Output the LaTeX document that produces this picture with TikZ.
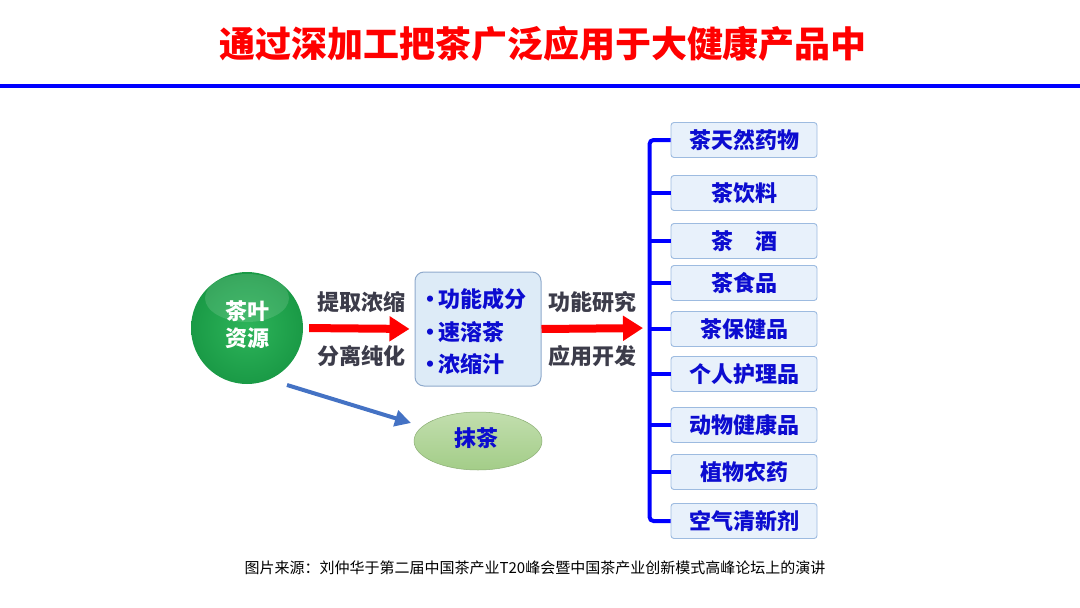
\documentclass[tikz,border=0pt]{standalone}
\usepackage{fontspec}
\setmainfont{Noto Sans CJK SC}
\newfontfamily\heavyfont{Noto Sans CJK SC}[UprightFont=* Black, BoldFont=* Black]
\usetikzlibrary{arrows.meta,shapes.geometric,shadings}
\definecolor{titlered}{HTML}{FF0000}
\definecolor{lineblue}{HTML}{0000FF}
\definecolor{txtblue}{HTML}{0C0CD0}
\definecolor{labgray}{HTML}{3C3C4A}
\definecolor{boxfill}{HTML}{DDEBF7}
\definecolor{boxedge}{HTML}{8FAACC}
\definecolor{itemfill}{HTML}{E8F1FB}
\definecolor{itemedge}{HTML}{9DBBE0}
\definecolor{arrowred}{HTML}{FF0000}
\definecolor{arrowblue}{HTML}{4472C4}
\definecolor{leafgreen}{HTML}{1A9A46}
\definecolor{leaflight}{HTML}{2DB45A}
\definecolor{matchatop}{HTML}{C2DEAE}
\definecolor{matchabot}{HTML}{A3CD88}
\tikzset{
  lab/.style={text=labgray, font=\fontsize{22}{26}\selectfont\bfseries},
  item/.style={draw=itemedge, fill=itemfill, line width=0.9, rounded corners=3,
    minimum width=146, minimum height=35, inner sep=0,
    text=txtblue, font=\fontsize{22}{26}\selectfont\bfseries},
  bullet/.style={anchor=west, text=txtblue, font=\fontsize{22}{26}\selectfont\bfseries, inner sep=0},
  redarrow/.style={arrowred, line width=8, -{Triangle[length=20,width=24]}},
  bracket/.style={lineblue, line width=4},
}
\begin{document}
\begin{tikzpicture}[x=1pt,y=-1pt]
\useasboundingbox (0,0) rectangle (1080,608);
\fill[white] (0,0) rectangle (1080,608);

% title
\node[text=titlered, font=\fontsize{36}{40}\selectfont\heavyfont] (title) at (543,44) {通过深加工把茶广泛应用于大健康产品中};
\coordinate (rl) at (0,86);
\coordinate (rr) at (1080,86);
\draw[lineblue, line width=4] (rl) -- (rr);

% source circle
\node[circle, minimum size=112, inner sep=0, inner color=leaflight, outer color=leafgreen] (src) at (247,328) {};
\fill[white, opacity=0.13] (247,298) ellipse (42 and 24);
\node[text=white, align=center, font=\fontsize{22}{27}\selectfont\bfseries] (srct) at (247,325) {茶叶\\资源};

% middle box
\node[draw=boxedge, fill=boxfill, line width=1, rounded corners=9, minimum width=126, minimum height=114, inner sep=0] (mid) at (478,329) {};
\node[bullet] (m1) at (419,299) {·\hspace{-3pt}功能成分};
\node[bullet] (m2) at (419,332) {·\hspace{-3pt}速溶茶};
\node[bullet] (m3) at (419,364) {·\hspace{-3pt}浓缩汁};

% arrows + labels
\draw[redarrow, shorten <=6, shorten >=5] (src.east) -- (mid.west);
\node[lab] (l1) at (361,302) {提取浓缩};
\node[lab] (l2) at (361,356) {分离纯化};

\coordinate (hub) at (650,328);
\draw[redarrow, shorten >=7] (mid.east) -- (hub);
\node[lab] (l3) at (592,302) {功能研究};
\node[lab] (l4) at (592,356) {应用开发};

% matcha
\node[ellipse, minimum width=128, minimum height=58, inner sep=0, top color=matchatop, bottom color=matchabot, draw=matchabot!85!black, line width=0.5] (matcha) at (478,441) {};
\node[text=txtblue, font=\fontsize{22}{26}\selectfont\bfseries] (matchat) at (476,438) {抹茶};
\coordinate (b0) at (287,385);
\coordinate (b1) at (411,423);
\draw[arrowblue, line width=4, -{Triangle[length=16,width=16]}] (b0) -- (b1);

% right items
\node[item] (r1) at (744,140) {茶天然药物};
\node[item] (r2) at (744,193) {茶饮料};
\node[item] (r3) at (744,241) {茶\hspace{1em}酒};
\node[item] (r4) at (744,283) {茶食品};
\node[item] (r5) at (744,329) {茶保健品};
\node[item] (r6) at (744,374) {个人护理品};
\node[item] (r7) at (744,425) {动物健康品};
\node[item] (r8) at (744,472) {植物农药};
\node[item] (r9) at (744,521) {空气清新剂};

\draw[bracket, rounded corners=4] (r1.west) -- ++(-21,0) |- (r9.west);
\foreach \i in {2,...,8} {
  \draw[bracket] (r\i.west) -- ++(-21,0);
}

% footer
\node[text=black, font=\fontsize{15}{18}\selectfont] (foot) at (535,568) {图片来源：刘仲华于第二届中国茶产业T20峰会暨中国茶产业创新模式高峰论坛上的演讲};
\end{tikzpicture}
\end{document}
